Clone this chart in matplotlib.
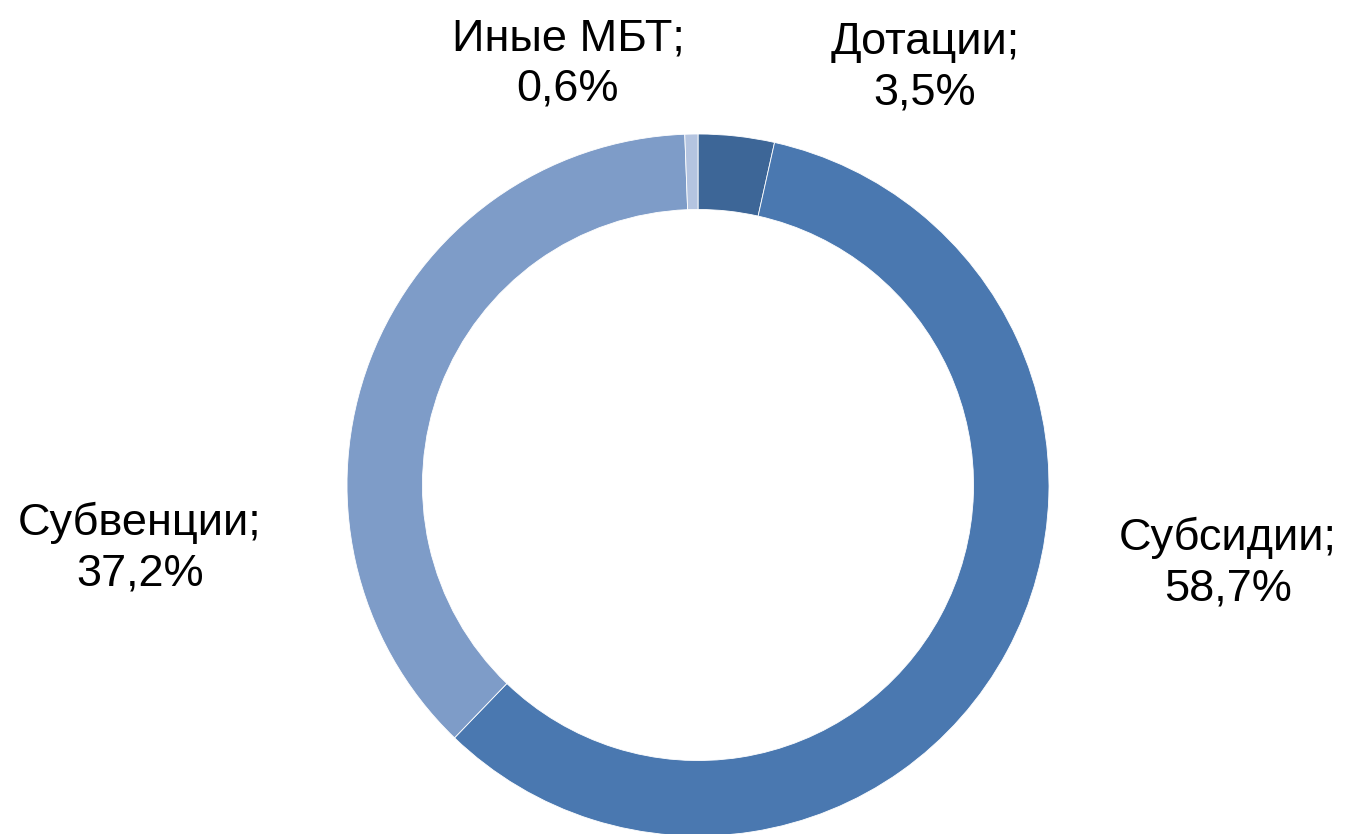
import matplotlib
matplotlib.use("Agg")
import matplotlib.pyplot as plt

categories = ["Дотации", "Субсидии", "Субвенции", "Иные МБТ"]
values = [3.5, 58.7, 37.2, 0.6]
value_labels = ["3,5%", "58,7%", "37,2%", "0,6%"]
colors = ["#3d6697", "#4a78b0", "#7e9cc8", "#b4c4e0"]

W, H = 1348, 834
fig = plt.figure(figsize=(W / 100, H / 100), dpi=100)
ax = fig.add_axes([0, 0, 1, 1])

cx, cy = 698, H - 485
R = 351
ax.pie(values, colors=colors, startangle=90, counterclock=False,
       center=(cx, cy), radius=R, frame=True,
       wedgeprops=dict(width=R * 0.215, edgecolor="white", linewidth=0.6))
ax.set_xlim(0, W)
ax.set_ylim(0, H)
ax.set_aspect("equal")
ax.axis("off")

label_pos = {
    "Дотации": (925, 68),
    "Субсидии": (1228, 563),
    "Субвенции": (140, 548),
    "Иные МБТ": (568, 64),
}
for cat, lab in zip(categories, value_labels):
    x, y = label_pos[cat]
    ax.text(x, H - y, f"{cat};\n{lab}", ha="center", va="center",
            multialignment="center", fontsize=32.5, family="Liberation Sans",
            linespacing=1.3, color="black")

fig.savefig("out.png", dpi=100, facecolor="white")
